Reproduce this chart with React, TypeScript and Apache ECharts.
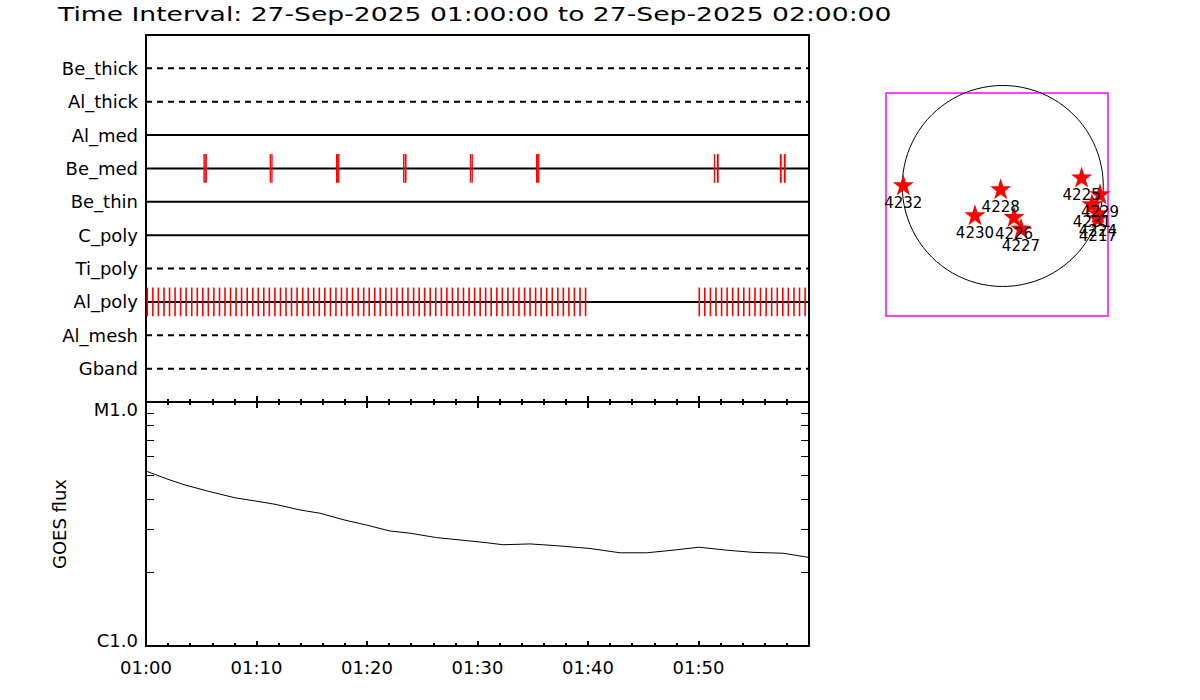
import React, { useEffect, useRef } from 'react';
import * as echarts from 'echarts';

const titleText = 'Time Interval: 27-Sep-2025 01:00:00 to 27-Sep-2025 02:00:00';
const timeTickLabels = ['01:00', '01:10', '01:20', '01:30', '01:40', '01:50'];

const detectors = ['Be_thick', 'Al_thick', 'Al_med', 'Be_med', 'Be_thin', 'C_poly', 'Ti_poly', 'Al_poly', 'Al_mesh', 'Gband'];
const detectorDashed = [true, true, false, false, false, false, true, false, true, true];

// minutes after 01:00
const beMedTimes = [
  5.25, 5.35, 5.45, 11.25, 11.4, 17.25, 17.35, 17.45, 23.32, 23.47, 23.52,
  29.37, 29.52, 35.35, 35.45, 35.55, 51.45, 51.72, 51.77, 57.42, 57.47, 57.78, 57.83,
];
const alPolyTimes = [
  0.12, 0.62, 1.12, 1.63, 2.13, 2.63, 3.13, 3.63, 4.14, 4.64, 5.14, 5.64, 6.14, 6.65, 7.15, 7.65,
  8.15, 8.65, 9.16, 9.66, 10.16, 10.66, 11.16, 11.67, 12.17, 12.67, 13.17, 13.67, 14.18, 14.68,
  15.18, 15.68, 16.18, 16.69, 17.19, 17.69, 18.19, 18.69, 19.2, 19.7, 20.2, 20.7, 21.2, 21.71,
  22.21, 22.71, 23.21, 23.71, 24.22, 24.72, 25.22, 25.72, 26.22, 26.73, 27.23, 27.73, 28.23,
  28.73, 29.24, 29.74, 30.24, 30.74, 31.24, 31.75, 32.25, 32.75, 33.25, 33.75, 34.26, 34.76,
  35.26, 35.76, 36.26, 36.77, 37.27, 37.77, 38.27, 38.77, 39.28, 39.78,
  50.07, 50.57, 51.08, 51.58, 52.09, 52.59, 53.09, 53.6, 54.1, 54.61, 55.11, 55.61, 56.12,
  56.62, 57.13, 57.63, 58.13, 58.64, 59.14, 59.65,
];

const goesTimes = [
  0, 2.17, 3.53, 5.79, 8.05, 9.86, 11.67, 13.94, 15.75, 18.01, 19.97, 22.08, 23.89, 26.31,
  28.42, 30.83, 32.31, 34.75, 37.01, 40.18, 42.9, 45.31, 47.69, 50.05, 52.55, 54.93, 57.65, 59.91,
];
const goesFlux = [
  5.21e-6, 4.79e-6, 4.57e-6, 4.29e-6, 4.05e-6, 3.93e-6, 3.81e-6, 3.61e-6, 3.5e-6, 3.28e-6,
  3.13e-6, 2.96e-6, 2.9e-6, 2.78e-6, 2.72e-6, 2.65e-6, 2.6e-6, 2.62e-6, 2.58e-6, 2.51e-6,
  2.41e-6, 2.41e-6, 2.47e-6, 2.54e-6, 2.47e-6, 2.42e-6, 2.4e-6, 2.31e-6,
];
const goesLabelValues = [1e-6, 1e-5];
const goesLabels = ['C1.0', 'M1.0'];
const goesMinorTicks = [2e-6, 3e-6, 4e-6, 5e-6, 6e-6, 7e-6, 8e-6, 9e-6];

// active regions, heliocentric arcsec
const regionNames = ['4232', '4228', '4230', '4226', '4227', '4225', '4229', '4231', '4224', '4217'];
const regionX = [-947, -20, -265, 107, 173, 751, 926, 849, 906, 906];
const regionY = [11, -27, -274, -290, -401, 85, -74, -169, -255, -303];
const sunRadius = 957;

const FONT = 'DejaVu Sans';
const STAR = 'path://M50,0 L61.8,35.1 L98.8,35.3 L69.1,57.3 L80.3,92.7 L50,71.3 L19.7,92.7 L30.9,57.3 L1.2,35.3 L38.2,35.1 Z';

const blackLine = { show: true, onZero: false, lineStyle: { color: '#000', width: 2 } };

function markSeries(times: number[], row: number, width: number) {
  return {
    type: 'custom',
    xAxisIndex: 0,
    yAxisIndex: 0,
    z: 5,
    silent: true,
    encode: { x: 0, y: 1 },
    data: times.map((t) => [t, row]),
    renderItem: (_p: any, api: any) => {
      const t = api.value(0);
      const r = api.value(1);
      const a = api.coord([t, r + 0.43]);
      const b = api.coord([t, r - 0.43]);
      return {
        type: 'line',
        shape: { x1: a[0], y1: a[1], x2: b[0], y2: b[1] },
        style: { stroke: '#ff0000', lineWidth: width },
      };
    },
  };
}

export default function App() {
  const ref = useRef<HTMLDivElement>(null);

  useEffect(() => {
    document.body.style.margin = '0';
    const chart = echarts.init(ref.current!, null, { renderer: 'svg' });

    const rowSeries = detectors.map((name, i) => {
      const row = 10 - i;
      return {
        type: 'line',
        name,
        xAxisIndex: 0,
        yAxisIndex: 0,
        silent: true,
        symbol: 'none',
        z: 3,
        data: [[0, row], [60, row]],
        lineStyle: { color: '#000', width: 2, type: detectorDashed[i] ? [6, 5] : 'solid' },
      };
    });

    const option: any = {
      animation: false,
      backgroundColor: '#fff',
      textStyle: { fontFamily: FONT, color: '#000' },
      graphic: [
        {
          type: 'text',
          x: 58,
          y: 14,
          scaleX: 1.33,
          style: {
            text: titleText,
            fontFamily: FONT,
            fontSize: 20,
            fill: '#000',
            textVerticalAlign: 'middle',
            verticalAlign: 'middle',
          },
        },
      ],
      grid: [
        { left: 146, top: 35, width: 663, height: 367, outerBoundsMode: 'none' },
        { left: 146, top: 402, width: 663, height: 244, outerBoundsMode: 'none' },
        {
          left: 886, top: 93, width: 222, height: 223, show: true,
          borderColor: '#ff00ff', borderWidth: 1.5, backgroundColor: 'transparent', outerBoundsMode: 'none',
        },
      ],
      xAxis: [
        {
          gridIndex: 0, type: 'value', position: 'bottom', min: 0, max: 60, interval: 10,
          axisLine: blackLine,
          axisTick: { show: true, inside: true, length: 6, lineStyle: { color: '#000', width: 2 } },
          minorTick: { show: true, splitNumber: 5, length: 3, lineStyle: { color: '#000', width: 2 } },
          axisLabel: { show: false },
          splitLine: { show: false },
        },
        {
          gridIndex: 0, type: 'value', position: 'top', min: 0, max: 60, interval: 10,
          axisLine: blackLine,
          axisTick: { show: false },
          axisLabel: { show: false },
          splitLine: { show: false },
        },
        {
          gridIndex: 1, type: 'value', position: 'top', min: 0, max: 60, interval: 10,
          axisLine: blackLine,
          axisTick: { show: true, inside: true, length: 6, lineStyle: { color: '#000', width: 2 } },
          minorTick: { show: true, splitNumber: 5, length: 3, lineStyle: { color: '#000', width: 2 } },
          axisLabel: { show: false },
          splitLine: { show: false },
        },
        {
          gridIndex: 1, type: 'value', position: 'bottom', min: 0, max: 60, interval: 10,
          axisLine: blackLine,
          axisTick: { show: true, inside: true, length: 5, lineStyle: { color: '#000', width: 2 } },
          minorTick: { show: true, splitNumber: 5, length: 3, lineStyle: { color: '#000', width: 2 } },
          axisLabel: {
            show: true, margin: 12, fontSize: 18, fontFamily: FONT, color: '#000',
            showMinLabel: true, showMaxLabel: true,
            formatter: (v: number) => {
              const i = Math.round(v / 10);
              return i < timeTickLabels.length ? timeTickLabels[i] : '';
            },
          },
          splitLine: { show: false },
        },
        { gridIndex: 2, type: 'value', min: -1112, max: 1002, show: false },
      ],
      yAxis: [
        {
          gridIndex: 0, type: 'value', position: 'left', min: 0, max: 11, interval: 1,
          axisLine: blackLine,
          axisTick: { show: false },
          splitLine: { show: false },
          axisLabel: {
            show: true, margin: 8, fontSize: 18, fontFamily: FONT, color: '#000',
            showMinLabel: true, showMaxLabel: true,
            formatter: (v: number) => (v >= 1 && v <= 10 ? detectors[10 - v] : ''),
          },
        },
        {
          gridIndex: 0, type: 'value', position: 'right', min: 0, max: 11, interval: 1,
          axisLine: blackLine,
          axisTick: { show: false },
          axisLabel: { show: false },
          splitLine: { show: false },
        },
        {
          gridIndex: 1, type: 'log', logBase: 10, position: 'left', min: 1e-6, max: 1e-5,
          axisLine: blackLine,
          axisTick: { show: true, inside: true, length: 8, customValues: goesMinorTicks, lineStyle: { color: '#000', width: 1 } },
          splitLine: { show: false },
          name: 'GOES flux',
          nameLocation: 'middle',
          nameGap: 78,
          nameTextStyle: { fontSize: 18, fontFamily: FONT, color: '#000' },
          axisLabel: {
            show: true, margin: 8, fontSize: 18, fontFamily: FONT, color: '#000',
            customValues: goesLabelValues,
            showMinLabel: true, showMaxLabel: true,
            formatter: (v: number) => (v > 3e-6 ? '{mx|' + goesLabels[1] + '}' : '{mn|' + goesLabels[0] + '}'),
            rich: {
              mx: { fontSize: 18, fontFamily: FONT, color: '#000', padding: [14, 0, 0, 0] },
              mn: { fontSize: 18, fontFamily: FONT, color: '#000', padding: [0, 0, 12, 0] },
            },
          },
        },
        {
          gridIndex: 1, type: 'log', logBase: 10, position: 'right', min: 1e-6, max: 1e-5,
          axisLine: blackLine,
          axisTick: { show: true, inside: true, length: 8, customValues: goesMinorTicks, lineStyle: { color: '#000', width: 1 } },
          axisLabel: { show: false },
          splitLine: { show: false },
        },
        { gridIndex: 2, type: 'value', min: -1236, max: 884, show: false },
      ],
      series: [
        ...rowSeries,
        markSeries(beMedTimes, 7, 1.3),
        markSeries(alPolyTimes, 3, 1.6),
        {
          type: 'line',
          name: 'GOES',
          xAxisIndex: 3,
          yAxisIndex: 2,
          symbol: 'none',
          silent: true,
          data: goesTimes.map((t, i) => [t, goesFlux[i]]),
          lineStyle: { color: '#000', width: 1 },
        },
        {
          type: 'custom',
          xAxisIndex: 4,
          yAxisIndex: 4,
          silent: true,
          clip: false,
          data: [[0, 0]],
          renderItem: (_p: any, api: any) => {
            const c = api.coord([0, 0]);
            const s = api.size([sunRadius, sunRadius]);
            return {
              type: 'circle',
              shape: { cx: c[0], cy: c[1], r: s[0] },
              style: { stroke: '#000', fill: 'none', lineWidth: 1 },
            };
          },
        },
        {
          type: 'scatter',
          xAxisIndex: 4,
          yAxisIndex: 4,
          symbol: STAR,
          symbolSize: 21,
          z: 6,
          silent: true,
          itemStyle: { color: '#ff0000', opacity: 1 },
          label: {
            show: true, position: 'bottom', distance: 0, formatter: '{b}',
            fontSize: 15, fontFamily: FONT, color: '#000', opacity: 1,
          },
          labelLayout: { hideOverlap: false },
          data: regionNames.map((n, i) => ({ name: n, value: [regionX[i], regionY[i]] })),
        },
      ],
    };

    chart.setOption(option);
    return () => chart.dispose();
  }, []);

  return <div ref={ref} style={{ width: 1200, height: 700 }} />;
}
